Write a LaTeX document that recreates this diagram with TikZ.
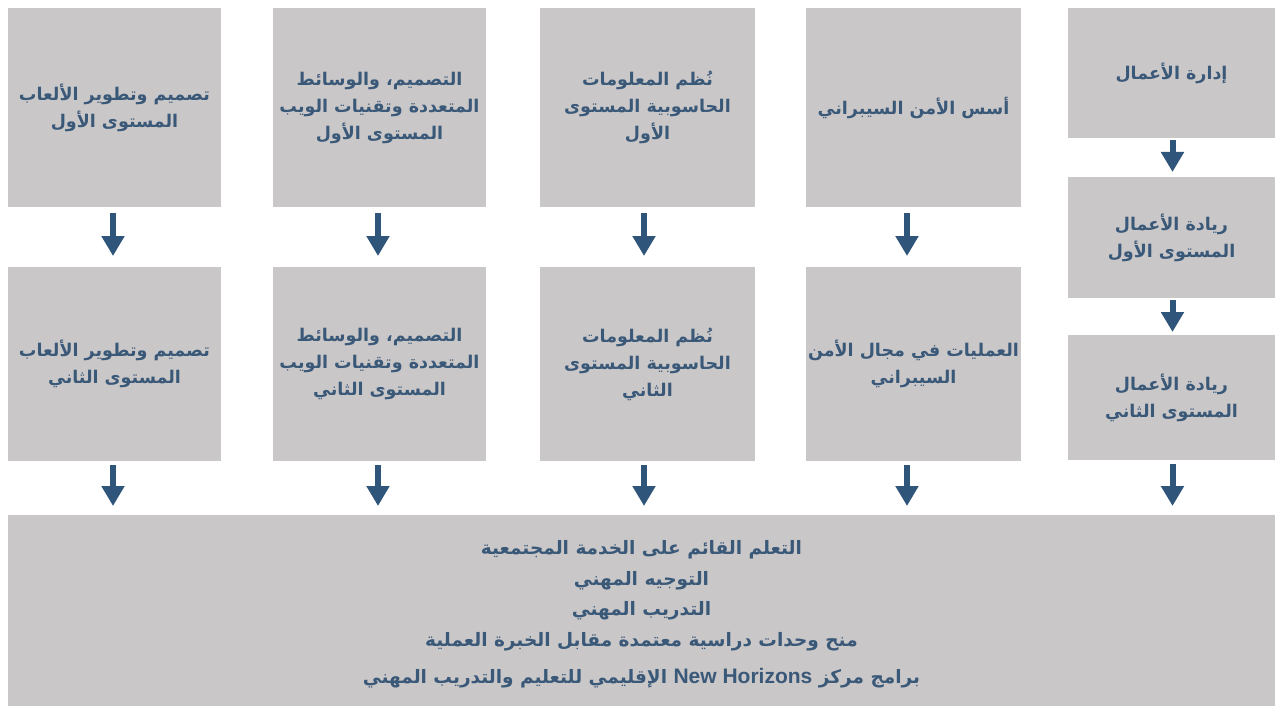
\documentclass[tikz,border=0pt]{standalone}
\usepackage{fontspec}
\newfontfamily\arabicfont[Script=Arabic]{DejaVu Sans}
\newfontfamily\latinfont{Liberation Sans}
\TeXXeTstate=1
\usetikzlibrary{arrows.meta}
\definecolor{boxgray}{HTML}{C9C7C8}
\definecolor{txtblue}{HTML}{3A5878}
\definecolor{arrblue}{HTML}{30557A}
\tikzset{
  box/.style={fill=boxgray, draw=none, inner sep=0pt, outer sep=0pt, align=center,
    text=txtblue, font=\arabicfont\bfseries\fontsize{17.5}{27}\selectfont},
  arr/.style={draw=arrblue, line width=6pt, -{Triangle[width=22pt,length=20pt]}, arrblue}
}
\begin{document}
\begin{tikzpicture}[x=1pt,y=-1pt]
\useasboundingbox (0,0) rectangle (1275,706);
% row 1
\node[box, minimum width=213, minimum height=199] (a1) at (114.5,107.5)
  {\beginR تصميم وتطوير الألعاب\endR\\\beginR المستوى الأول\endR};
\node[box, minimum width=213, minimum height=199] (b1) at (379.5,107.5)
  {\beginR التصميم، والوسائط\endR\\\beginR المتعددة وتقنيات الويب\endR\\\beginR المستوى الأول\endR};
\node[box, minimum width=215, minimum height=199] (c1) at (647.5,107.5)
  {\beginR نُظم المعلومات\endR\\\beginR الحاسوبية المستوى\endR\\\beginR الأول\endR};
\node[box, minimum width=215, minimum height=199] (d1) at (913.5,107.5)
  {\beginR أسس الأمن السيبراني\endR};
% row 2
\node[box, minimum width=213, minimum height=194] (a2) at (114.5,364)
  {\beginR تصميم وتطوير الألعاب\endR\\\beginR المستوى الثاني\endR};
\node[box, minimum width=213, minimum height=194] (b2) at (379.5,364)
  {\beginR التصميم، والوسائط\endR\\\beginR المتعددة وتقنيات الويب\endR\\\beginR المستوى الثاني\endR};
\node[box, minimum width=215, minimum height=194] (c2) at (647.5,364)
  {\beginR نُظم المعلومات\endR\\\beginR الحاسوبية المستوى\endR\\\beginR الثاني\endR};
\node[box, minimum width=215, minimum height=194] (d2) at (913.5,364)
  {\beginR العمليات في مجال الأمن\endR\\\beginR السيبراني\endR};
% column 5
\node[box, minimum width=207, minimum height=130] (e1) at (1171.5,73)
  {\beginR إدارة الأعمال\endR};
\node[box, minimum width=207, minimum height=121] (e2) at (1171.5,237.5)
  {\beginR ريادة الأعمال\endR\\\beginR المستوى الأول\endR};
\node[box, minimum width=207, minimum height=125] (e3) at (1171.5,397.5)
  {\beginR ريادة الأعمال\endR\\\beginR المستوى الثاني\endR};
% bottom
\node[box, minimum width=1267, minimum height=191] (f) at (641.5,610.5) {};
\node[box, fill=none, font=\arabicfont\bfseries\fontsize{18.5}{30.5}\selectfont] (ftext) at (641.5,614.5)
  {\beginR التعلم القائم على الخدمة المجتمعية\endR\\
   \beginR التوجيه المهني\endR\\
   \beginR التدريب المهني\endR\\
   \beginR منح وحدات دراسية معتمدة مقابل الخبرة العملية\endR\\[7pt]
   \beginR برامج مركز \beginL{\latinfont\bfseries\fontsize{21}{22}\selectfont New Horizons}\endL{} الإقليمي للتعليم والتدريب المهني\endR};
% arrows
\foreach \u/\v/\s in {a1/a2/-1.5,b1/b2/-1.5,c1/c2/-3.5,d1/d2/-6.5}
  \draw[arr, shorten <=6pt, shorten >=11pt] ([xshift=\s pt]\u.south) -- ([xshift=\s pt]\v.north);
\foreach \u/\s in {a2/-1.5,b2/-1.5,c2/-3.5,d2/-6.5,e3/1}
  \draw[arr, shorten <=4pt, shorten >=9pt] ([xshift=\s pt]\u.south) -- ([xshift=\s pt]\u.south |- f.north);
\draw[arr, shorten <=2pt, shorten >=5pt] ([xshift=1pt]e1.south) -- ([xshift=1pt]e2.north);
\draw[arr, shorten <=2pt, shorten >=3pt] ([xshift=1pt]e2.south) -- ([xshift=1pt]e3.north);
\end{tikzpicture}
\end{document}
